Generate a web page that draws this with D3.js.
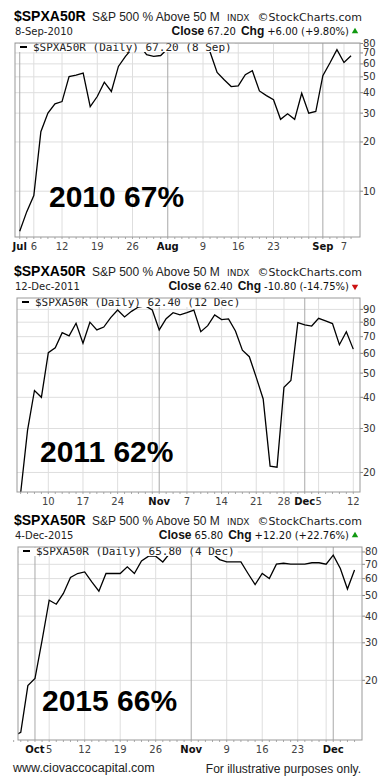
<!DOCTYPE html>
<html>
<head>
<meta charset="utf-8">
<script src="https://cdn.jsdelivr.net/npm/d3@7"></script>
<style>
  body { margin: 0; background: #fff; }
  svg { display: block; }
</style>
</head>
<body>
<div id="chart"></div>
<script>
// ---- data: trading days (MM-DD), % of S&P 500 above 50 day MA, axis ticks ----
var days2010 = ["07-01","07-02","07-06","07-07","07-08","07-09","07-12","07-13","07-14","07-15","07-16",
  "07-19","07-20","07-21","07-22","07-23","07-26","07-27","07-28","07-29","07-30",
  "08-02","08-03","08-04","08-05","08-06","08-09","08-10","08-11","08-12","08-13",
  "08-16","08-17","08-18","08-19","08-20","08-23","08-24","08-25","08-26","08-27",
  "08-30","08-31","09-01","09-02","09-03","09-07","09-08"];
var vals2010 = [5.7, 7.5, 9.4, 23.1, 30.0, 34.2, 35.3, 50.2, 51.3, 52.7, 32.9,
  37.9, 46.4, 40.7, 57.9, 66.7, 75.0, 78.0, 68.3, 66.7, 67.5,
  74.5, 76.0, 77.0, 76.0, 75.0, 77.0, 71.0, 53.2, 48.0, 43.6,
  44.0, 51.5, 54.5, 41.0, 38.4, 36.2, 27.5, 29.7, 27.5, 39.7,
  30.0, 30.7, 50.8, 60.7, 73.3, 61.2, 67.2];
var ticks2010 = [["07-01","Jul"],["07-06","6"],["07-12","12"],["07-19","19"],["07-26","26"],
  ["08-02","Aug"],["08-09","9"],["08-16","16"],["08-23","23"],["08-30",""],["09-01","Sep"],["09-07","7"]];
var yTicks2010 = [10, 20, 30, 40, 50, 60, 70, 80];

var days2011 = ["10-04","10-05","10-06","10-07","10-10","10-11","10-12","10-13","10-14",
  "10-17","10-18","10-19","10-20","10-21","10-24","10-25","10-26","10-27","10-28",
  "10-31","11-01","11-02","11-03","11-04","11-07","11-08","11-09","11-10","11-11",
  "11-14","11-15","11-16","11-17","11-18","11-21","11-22","11-23","11-25",
  "11-28","11-29","11-30","12-01","12-02","12-05","12-06","12-07","12-08","12-09","12-12"];
var vals2011 = [16.5, 29.5, 42.6, 40.0, 60.4, 63.2, 72.6, 70.5, 79.2,
  65.9, 80.0, 74.5, 76.5, 83.4, 89.5, 84.0, 88.4, 92.0, 93.0,
  89.5, 74.5, 82.6, 87.3, 85.6, 87.3, 89.5, 73.3, 77.5, 85.6,
  81.9, 82.5, 73.8, 61.8, 58.2, 48.1, 39.4, 21.2, 21.0,
  43.9, 46.7, 79.6, 78.0, 77.2, 82.9, 81.0, 79.0, 65.0, 73.2, 62.4];
var ticks2011 = [["10-10","10"],["10-17","17"],["10-24","24"],["10-31",""],["11-01","Nov"],["11-07","7"],
  ["11-14","14"],["11-21","21"],["11-28","28"],["12-01","Dec"],["12-05","5"],["12-12","12"]];
var yTicks2011 = [20, 30, 40, 50, 60, 70, 80, 90];

var days2015 = ["09-28","09-29","09-30","10-01","10-02","10-05","10-06","10-07","10-08","10-09",
  "10-12","10-13","10-14","10-15","10-16","10-19","10-20","10-21","10-22","10-23",
  "10-26","10-27","10-28","10-29","10-30","11-02","11-03","11-04","11-05","11-06",
  "11-09","11-10","11-11","11-12","11-13","11-16","11-17","11-18","11-19","11-20",
  "11-23","11-24","11-25","11-27","11-30","12-01","12-02","12-03","12-04"];
var vals2015 = [11.0, 11.4, 18.9, 20.4, 30.8, 47.5, 45.5, 51.1, 60.7, 63.4,
  64.5, 57.9, 52.4, 63.4, 63.4, 63.4, 68.1, 63.4, 72.6, 76.4,
  76.4, 71.8, 79.0, 80.0, 79.0, 81.0, 80.0, 79.0, 78.5, 73.7,
  71.8, 71.8, 71.8, 63.4, 56.3, 63.4, 60.1, 70.1, 70.8, 70.1,
  70.1, 70.1, 71.2, 71.2, 70.1, 77.3, 66.9, 53.6, 65.8];
var ticks2015 = [["10-01","Oct"],["10-05","5"],["10-12","12"],["10-19","19"],["10-26","26"],
  ["11-02","Nov"],["11-09","9"],["11-16","16"],["11-23","23"],["11-30",""],["12-01","Dec"]];
var yTicks2015 = [20, 30, 40, 50, 60, 70, 80];

var panels = [
  {days: days2010, vals: vals2010, ticks: ticks2010, yTicks: yTicks2010,
   date: "8-Sep-2010", close: "67.20", chg: "+6.00 (+9.80%)", up: true,
   legend: "$SPXA50R (Daily) 67.20 (8 Sep)", note: "2010 67%",
   top: 43, bottom: 237, left: 15, right: 360, xDom: [-0.67, 48.27], yDom: [5.25, 80.5], noteX: 49},
  {days: days2011, vals: vals2011, ticks: ticks2011, yTicks: yTicks2011,
   date: "12-Dec-2011", close: "62.40", chg: "-10.80 (-14.75%)", up: false,
   legend: "$SPXA50R (Daily) 62.40 (12 Dec)", note: "2011 62%",
   top: 298, bottom: 492, left: 17, right: 360, xDom: [-0.52, 48.97], yDom: [16.7, 100], noteX: 40},
  {days: days2015, vals: vals2015, ticks: ticks2015, yTicks: yTicks2015,
   date: "4-Dec-2015", close: "65.80", chg: "+12.20 (+22.76%)", up: true,
   legend: "$SPXA50R (Daily) 65.80 (4 Dec)", note: "2015 66%",
   top: 547, bottom: 740, left: 18, right: 362, xDom: [0.61, 49.05], yDom: [10.5, 84.4], noteX: 42}
];

var sans = "'DejaVu Sans', Verdana, sans-serif",
    arial = "'Liberation Sans', Arial, sans-serif",
    mono = "'DejaVu Sans Mono', monospace";

var svg = d3.select("#chart")
  .append("svg")
    .attr("width", 390)
    .attr("height", 784);

panels.forEach(function(p, n) {
  var g = svg.append("g");
  var idx = {};
  p.days.forEach(function(d, i) { idx[d] = i; });

  var x = d3.scaleLinear().domain(p.xDom).range([p.left, p.right]);
  var y = d3.scaleLog().domain(p.yDom).range([p.bottom, p.top]);

  // header
  g.append("text").attr("x", 14).attr("y", p.top - 22)
    .attr("font-family", arial).attr("font-weight", "bold").attr("font-size", 14)
    .text("$SPXA50R");
  g.append("text").attr("x", 92).attr("y", p.top - 22)
    .attr("font-family", arial).attr("font-size", 12).attr("fill", "#222")
    .text("S&P 500 % Above 50 M");
  g.append("text").attr("x", 227).attr("y", p.top - 22)
    .attr("font-family", sans).attr("font-size", 9).attr("fill", "#222")
    .text("INDX");
  g.append("text").attr("x", 362).attr("y", p.top - 22).attr("text-anchor", "end")
    .attr("font-family", sans).attr("font-size", 11).attr("fill", "#222")
    .text("\u00a9StockCharts.com");

  g.append("text").attr("x", 15).attr("y", p.top - 8)
    .attr("font-family", sans).attr("font-size", 10).attr("fill", "#222")
    .text(p.date);
  var c = g.append("text").attr("x", 349).attr("y", p.top - 8).attr("text-anchor", "end").attr("fill", "#111");
  c.append("tspan").attr("font-family", arial).attr("font-weight", "bold").attr("font-size", 12).text("Close");
  c.append("tspan").attr("dx", 3).attr("font-family", sans).attr("font-size", 10).text(p.close);
  c.append("tspan").attr("dx", 5).attr("font-family", arial).attr("font-weight", "bold").attr("font-size", 12).text("Chg");
  c.append("tspan").attr("dx", 3).attr("font-family", sans).attr("font-size", 10).text(p.chg);
  g.append("path")
    .attr("d", d3.symbol().type(d3.symbolTriangle).size(18))
    .attr("transform", "translate(355," + (p.top - 11.5) + ")" + (p.up ? "" : " rotate(180)"))
    .attr("fill", p.up ? "#119911" : "#cc1111");

  // horizontal grid + right axis
  g.selectAll(".hg").data(p.yTicks).enter().append("line")
    .attr("x1", p.left).attr("x2", p.right)
    .attr("y1", function(d) { return y(d); }).attr("y2", function(d) { return y(d); })
    .attr("stroke", "#dedede");
  g.selectAll(".yt").data(p.yTicks).enter().append("line")
    .attr("x1", p.right).attr("x2", p.right + 3)
    .attr("y1", function(d) { return y(d); }).attr("y2", function(d) { return y(d); })
    .attr("stroke", "#888");
  g.selectAll(".yl").data(p.yTicks).enter().append("text")
    .attr("x", p.right + 3).attr("y", function(d) { return y(d); }).attr("dy", "0.35em")
    .attr("font-family", sans).attr("font-size", 10).attr("fill", "#333")
    .text(function(d) { return d; });

  // vertical grid + bottom axis
  g.selectAll(".vg").data(p.ticks).enter().append("line")
    .attr("x1", function(d) { return x(idx[d[0]]); }).attr("x2", function(d) { return x(idx[d[0]]); })
    .attr("y1", p.top).attr("y2", p.bottom)
    .attr("stroke", function(d) { return isNaN(+d[1]) ? "#a8a8a8" : "#dedede"; });
  g.selectAll(".dt").data(p.days).enter().append("line")
    .attr("x1", function(d, i) { return x(i); }).attr("x2", function(d, i) { return x(i); })
    .attr("y1", p.bottom).attr("y2", p.bottom + 2)
    .attr("stroke", "#aaa");
  g.selectAll(".xl").data(p.ticks.filter(function(d) { return d[1] !== ""; })).enter().append("text")
    .attr("x", function(d) { return x(idx[d[0]]); }).attr("y", p.bottom + 13)
    .attr("text-anchor", "middle")
    .attr("font-family", sans).attr("font-size", 10)
    .attr("font-weight", function(d) { return isNaN(+d[1]) ? "bold" : "normal"; })
    .attr("fill", function(d) { return isNaN(+d[1]) ? "#111" : "#444"; })
    .text(function(d) { return d[1]; });

  // the series
  g.append("clipPath").attr("id", "clip" + n)
    .append("rect").attr("x", p.left).attr("y", p.top)
    .attr("width", p.right - p.left).attr("height", p.bottom - p.top);
  g.append("path")
    .datum(p.vals)
    .attr("clip-path", "url(#clip" + n + ")")
    .attr("fill", "none").attr("stroke", "#000").attr("stroke-width", 1.3)
    .attr("d", d3.line()
      .x(function(d, i) { return x(i); })
      .y(function(d) { return y(d); }));

  // legend box (white, hides line under it)
  var lg = g.append("text").attr("x", p.left + 18).attr("y", p.top + 7.5)
    .attr("font-family", mono).attr("font-size", 11).attr("fill", "#222")
    .text(p.legend);
  var lw = lg.node().getComputedTextLength();
  g.insert("rect", function() { return lg.node(); })
    .attr("x", p.left + 1).attr("y", p.top + 0.5)
    .attr("width", lw + 20).attr("height", 8.5)
    .attr("fill", "#fff");
  g.append("line")
    .attr("x1", p.left + 5).attr("x2", p.left + 12)
    .attr("y1", p.top + 4).attr("y2", p.top + 4)
    .attr("stroke", "#000").attr("stroke-width", 2);

  // frame
  g.append("rect")
    .attr("x", p.left).attr("y", p.top)
    .attr("width", p.right - p.left).attr("height", p.bottom - p.top)
    .attr("fill", "none").attr("stroke", "#999");

  // big note
  g.append("text").attr("x", p.noteX).attr("y", p.top + 164)
    .attr("font-family", arial).attr("font-weight", "bold").attr("font-size", 30)
    .text(p.note);
});

svg.append("text").attr("x", 13).attr("y", 772)
  .attr("font-family", arial).attr("font-size", 12.5).attr("fill", "#222")
  .text("www.ciovaccocapital.com");
svg.append("text").attr("x", 361).attr("y", 773).attr("text-anchor", "end")
  .attr("font-family", arial).attr("font-size", 12).attr("fill", "#222")
  .text("For illustrative purposes only.");
</script>
</body>
</html>
